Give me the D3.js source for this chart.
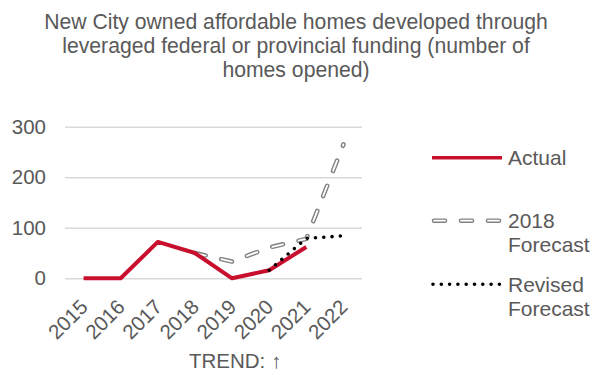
<!DOCTYPE html>
<html>
<head>
<meta charset="utf-8">
<script src="https://cdn.jsdelivr.net/npm/d3@7"></script>
<style>
  html, body { margin: 0; padding: 0; background: #fff; }
  svg { display: block; }
  text { font-family: "Liberation Sans", Arial, sans-serif; fill: #595959; }
</style>
</head>
<body>
<svg id="chart" width="594" height="375"></svg>
<script>
// Years on the category axis
const years = ["2015", "2016", "2017", "2018", "2019", "2020", "2021", "2022"];
// Homes opened per year (null = no value for that year)
const actual = [0, 0, 72, 50, 0, 16, 62, null];
const forecast2018 = [null, null, null, 50, 33, 61, 78, 265];
const revisedForecast = [null, null, null, null, null, 16, 79, 84];
// Value axis ticks
const yTicks = [0, 100, 200, 300];

const titleLines = [
  "New City owned affordable homes developed through",
  "leveraged federal or provincial funding (number of",
  "homes opened)"
];
const axisTitle = "TREND: \u2191";

const svg = d3.select("#chart");
const plot = { left: 65, right: 362, top: 126.7, bottom: 278.3 };

const x = d3.scalePoint().domain(years).range([plot.left, plot.right]).padding(0.5);
const y = d3.scaleLinear().domain([0, 300]).range([plot.bottom, plot.top]);

// Title
svg.append("text")
  .attr("text-anchor", "middle")
  .style("font-size", "21.2px")
  .selectAll("tspan")
  .data(titleLines)
  .join("tspan")
  .attr("x", 296)
  .attr("y", (d, i) => 29 + i * 24)
  .text(d => d);

// Gridlines + value labels
const yAxis = d3.axisLeft(y).tickValues(yTicks).tickSize(-(plot.right - plot.left)).tickPadding(19);
const gy = svg.append("g").attr("transform", `translate(${plot.left},0)`).call(yAxis);
gy.select(".domain").remove();
gy.selectAll(".tick line").attr("stroke", "#d9d9d9").attr("stroke-width", 1.5);
gy.selectAll(".tick text").style("font-size", "20.5px").attr("fill", "#595959")
  .style("font-family", "'Liberation Sans', Arial, sans-serif");

// Category labels, rotated
const xAxis = d3.axisBottom(x).tickSize(0).tickPadding(0);
const gx = svg.append("g").attr("transform", `translate(0,${plot.bottom})`).call(xAxis);
gx.select(".domain").remove();
gx.selectAll(".tick text")
  .style("font-size", "20.5px").attr("fill", "#595959")
  .style("font-family", "'Liberation Sans', Arial, sans-serif")
  .attr("text-anchor", "end")
  .attr("y", 0).attr("dy", 0)
  .attr("transform", "translate(5,30) rotate(-45)");

// Axis title
svg.append("text")
  .attr("x", 235).attr("y", 368)
  .attr("text-anchor", "middle")
  .style("font-size", "20.5px")
  .text(axisTitle);

const lineGen = d3.line()
  .defined(d => d.v !== null)
  .x(d => x(d.year))
  .y(d => y(d.v));
const toPts = arr => years.map((yr, i) => ({ year: yr, v: arr[i] }));

const RED = "#C8102E";
const DASH = "11,16";

// 2018 forecast: hollow dashes (grey outline with white core)
svg.append("path").datum(toPts(forecast2018))
  .attr("d", lineGen).attr("fill", "none")
  .attr("stroke", "#808080").attr("stroke-width", 4.6)
  .attr("stroke-linecap", "round").attr("stroke-dasharray", DASH);
svg.append("path").datum(toPts(forecast2018))
  .attr("d", lineGen).attr("fill", "none")
  .attr("stroke", "#fff").attr("stroke-width", 1.8)
  .attr("stroke-linecap", "round").attr("stroke-dasharray", DASH);

// Actual
svg.append("path").datum(toPts(actual))
  .attr("d", lineGen).attr("fill", "none")
  .attr("stroke", RED).attr("stroke-width", 4)
  .attr("stroke-linejoin", "round");

// Revised forecast: round dots
svg.append("path").datum(toPts(revisedForecast))
  .attr("d", lineGen).attr("fill", "none")
  .attr("stroke", "#000").attr("stroke-width", 3.6)
  .attr("stroke-linecap", "round").attr("stroke-dasharray", "0,8.3");

// Legend
const lg = svg.append("g");
const lx0 = 432, lx1 = 502, ltx = 508;
lg.append("line").attr("x1", lx0).attr("x2", lx1).attr("y1", 157.7).attr("y2", 157.7)
  .attr("stroke", RED).attr("stroke-width", 3.6);
lg.append("text").attr("x", ltx).attr("y", 164.8).style("font-size", "21px").text("Actual");

lg.append("line").attr("x1", lx0 + 2).attr("x2", lx1).attr("y1", 220.7).attr("y2", 220.7)
  .attr("stroke", "#808080").attr("stroke-width", 4.6)
  .attr("stroke-linecap", "round").attr("stroke-dasharray", DASH);
lg.append("line").attr("x1", lx0 + 2).attr("x2", lx1).attr("y1", 220.7).attr("y2", 220.7)
  .attr("stroke", "#fff").attr("stroke-width", 1.8)
  .attr("stroke-linecap", "round").attr("stroke-dasharray", DASH);
lg.append("text").attr("x", ltx).attr("y", 228.3).style("font-size", "21px").text("2018");
lg.append("text").attr("x", ltx).attr("y", 252).style("font-size", "21px").text("Forecast");

lg.append("line").attr("x1", lx0 + 1).attr("x2", lx1).attr("y1", 284.3).attr("y2", 284.3)
  .attr("stroke", "#000").attr("stroke-width", 3.6)
  .attr("stroke-linecap", "round").attr("stroke-dasharray", "0,8.3");
lg.append("text").attr("x", ltx).attr("y", 291.7).style("font-size", "21px").text("Revised");
lg.append("text").attr("x", ltx).attr("y", 315.5).style("font-size", "21px").text("Forecast");
</script>
</body>
</html>
